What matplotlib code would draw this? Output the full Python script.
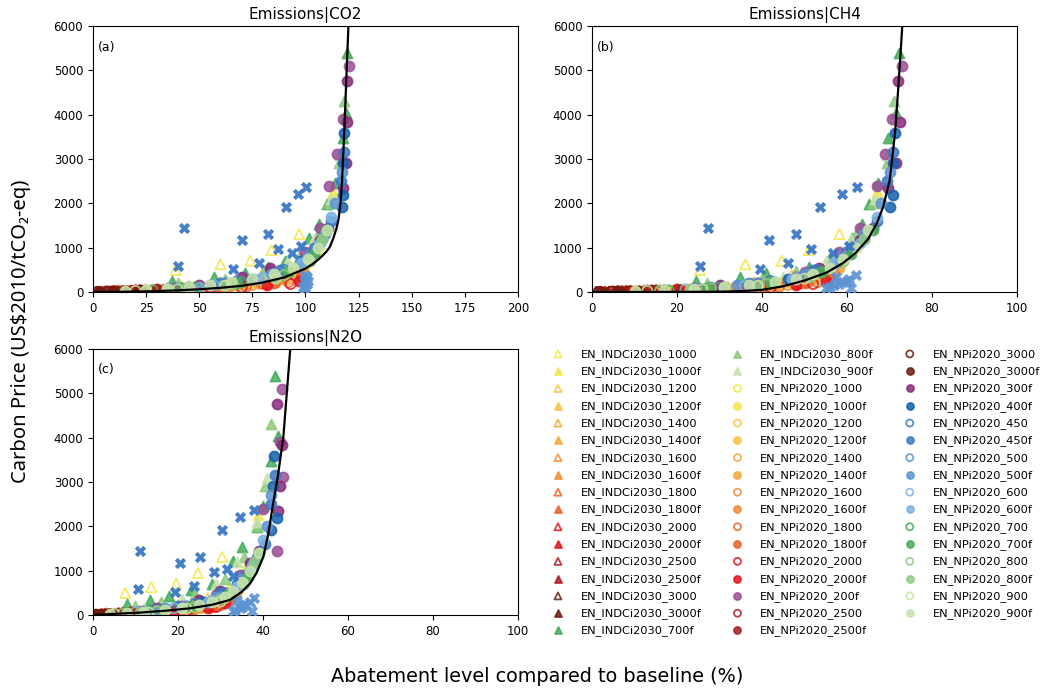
import matplotlib
matplotlib.use('Agg')
import matplotlib.pyplot as plt

# ---------------- data ----------------
gas_titles = ['Emissions|CO2', 'Emissions|CH4', 'Emissions|N2O']
panel_tags = ['(a)', '(b)', '(c)']
yticks = [0, 1000, 2000, 3000, 4000, 5000, 6000]
xticks_co2 = [0, 25, 50, 75, 100, 125, 150, 175, 200]
xticks_other = [0, 20, 40, 60, 80, 100]

# INDCi2030 scenarios (triangles): price, CO2 %, CH4 %, N2O %
i1000_y = [496, 625, 706, 947, 1308]
i1000_co2 = [39, 60, 74, 84, 97]
i1000_ch4 = [25.4, 36.1, 44.6, 51, 58.2]
i1000_n2o = [7.6, 13.7, 19.6, 24.7, 30.4]
i1000f_y = [150, 300, 600, 1100, 2250]
i1000f_co2 = [55, 78, 97, 107, 113]
i1000f_ch4 = [38, 48, 56, 62, 67]
i1000f_n2o = [20, 27, 32, 36, 38.9]
i1200_y = [60, 120, 220, 380]
i1200_co2 = [25, 42, 60, 80]
i1200_ch4 = [16, 27, 38, 47]
i1200_n2o = [7, 13, 20, 27]
i1200f_y = [80, 160, 320, 650]
i1200f_co2 = [40, 60, 82, 98]
i1200f_ch4 = [27, 39, 49, 57]
i1200f_n2o = [14, 21, 28, 33.5]
i1400_y = [40, 90, 160, 260]
i1400_co2 = [20, 38, 55, 72]
i1400_ch4 = [14, 25, 36, 45]
i1400_n2o = [6, 12, 19, 26]
i1400f_y = [60, 120, 250, 480]
i1400f_co2 = [35, 55, 78, 95]
i1400f_ch4 = [24, 36, 47, 55]
i1400f_n2o = [12, 20, 27, 33]
i1600_y = [30, 60, 110, 190]
i1600_co2 = [15, 30, 48, 65]
i1600_ch4 = [11, 21, 32, 42]
i1600_n2o = [5, 10, 17, 24]
i1600f_y = [40, 90, 180, 350]
i1600f_co2 = [28, 48, 70, 90]
i1600f_ch4 = [19, 31, 43, 52]
i1600f_n2o = [10, 17, 25, 31]
i1800_y = [20, 40, 80, 140]
i1800_co2 = [10, 24, 40, 58]
i1800_ch4 = [8, 17, 28, 38]
i1800_n2o = [3, 8, 14, 21]
i1800f_y = [30, 70, 140, 260]
i1800f_co2 = [22, 42, 62, 85]
i1800f_ch4 = [15, 28, 40, 50]
i1800f_n2o = [8, 15, 23, 30]
i2000_y = [15, 30, 60, 100]
i2000_co2 = [7, 18, 33, 50]
i2000_ch4 = [6, 13, 24, 34]
i2000_n2o = [2, 6, 12, 18]
i2000f_y = [20, 50, 100, 200]
i2000f_co2 = [15, 35, 55, 80]
i2000f_ch4 = [10, 23, 36, 48]
i2000f_n2o = [5, 12, 20, 28]
i2500_y = [8, 15, 30, 50]
i2500_co2 = [4, 10, 18, 30]
i2500_ch4 = [3, 7, 13, 20]
i2500_n2o = [1, 3, 6, 10]
i2500f_y = [10, 25, 45, 80]
i2500f_co2 = [5, 12, 20, 35]
i2500f_ch4 = [3, 8, 14, 24]
i2500f_n2o = [1.5, 4, 7, 13]
i3000_y = [5, 10, 20, 35]
i3000_co2 = [2, 6, 12, 20]
i3000_ch4 = [1, 4, 8, 14]
i3000_n2o = [0.5, 2, 4, 7]
i3000f_y = [8, 15, 28, 45]
i3000f_co2 = [3, 8, 14, 20]
i3000f_ch4 = [2, 5, 9, 15]
i3000f_n2o = [1, 2.5, 5, 8]
i700f_y = [248, 346, 421, 557, 706, 1211, 1526, 1978, 2466, 3481, 4045, 5385]
i700f_co2 = [37, 57, 71.7, 82.4, 90.4, 101.6, 106.2, 110.3, 113.9, 117.8, 119, 119.4]
i700f_ch4 = [24.5, 34.8, 41, 51.1, 56, 61.2, 63.5, 65.2, 67.4, 69.6, 71.5, 72.3]
i700f_n2o = [8, 13.5, 18, 23, 28, 32.9, 35, 38.5, 40, 42, 43.6, 42.8]
i800f_y = [200, 300, 480, 800, 1300, 2000, 2900, 4309]
i800f_co2 = [40, 62, 80, 97, 106, 111, 116, 118.1]
i800f_ch4 = [27, 40, 48, 56, 62, 66, 69.5, 71.1]
i800f_n2o = [10, 16, 24, 31, 35.5, 38.5, 40.5, 41.9]
i900f_y = [60, 150, 350, 700, 1200, 2100, 3100]
i900f_co2 = [20, 45, 70, 92, 104, 112, 116]
i900f_ch4 = [12, 30, 45, 55, 61, 66.5, 69.5]
i900f_n2o = [3, 12, 21, 29, 34, 38.5, 41]

# NPi2020 scenarios (circles)
n1000_y = [30, 80, 180, 350, 600]
n1000_co2 = [25, 45, 68, 88, 100]
n1000_ch4 = [15, 28, 42, 52, 58]
n1000_n2o = [7, 15, 24, 30, 34]
n1000f_y = [50, 120, 260, 500, 900]
n1000f_co2 = [35, 58, 80, 96, 105]
n1000f_ch4 = [22, 36, 47, 56, 61]
n1000f_n2o = [11, 20, 27, 33, 36]
n1200_y = [25, 60, 130, 260, 450]
n1200_co2 = [20, 40, 62, 82, 96]
n1200_ch4 = [13, 26, 40, 49, 56]
n1200_n2o = [6, 13, 21, 28, 32]
n1200f_y = [35, 90, 200, 400, 700]
n1200f_co2 = [30, 52, 74, 92, 102]
n1200f_ch4 = [19, 33, 45, 54, 59]
n1200f_n2o = [9, 18, 26, 31, 35]
n1400_y = [20, 45, 100, 200, 350]
n1400_co2 = [16, 34, 56, 78, 92]
n1400_ch4 = [11, 23, 37, 47, 54]
n1400_n2o = [5, 11, 19, 26, 31]
n1400f_y = [28, 70, 150, 300, 550]
n1400f_co2 = [26, 46, 68, 88, 99]
n1400f_ch4 = [16, 30, 43, 52, 58]
n1400f_n2o = [8, 16, 24, 30, 34]
n1600_y = [15, 35, 80, 160, 280]
n1600_co2 = [12, 28, 50, 75, 92]
n1600_ch4 = [9, 20, 34, 46, 54]
n1600_n2o = [4, 9, 17, 25, 30]
n1600f_y = [22, 55, 120, 240, 420]
n1600f_co2 = [20, 40, 64, 86, 98]
n1600f_ch4 = [13, 27, 41, 51, 57]
n1600f_n2o = [6, 14, 22, 29, 33]
n1800_y = [12, 28, 60, 120, 220]
n1800_co2 = [9, 23, 45, 72, 92]
n1800_ch4 = [7, 17, 31, 44, 53]
n1800_n2o = [3, 8, 15, 23, 30]
n1800f_y = [18, 45, 100, 200, 330]
n1800f_co2 = [15, 35, 60, 85, 98]
n1800f_ch4 = [10, 24, 39, 50, 56]
n1800f_n2o = [5, 12, 20, 28, 32]
n2000_y = [10, 22, 50, 100, 180]
n2000_co2 = [6, 18, 40, 70, 93]
n2000_ch4 = [5, 14, 28, 42, 52]
n2000_n2o = [2, 7, 14, 22, 29]
n2000f_y = [14, 35, 80, 160, 260]
n2000f_co2 = [11, 30, 55, 82, 97]
n2000f_ch4 = [8, 21, 36, 48, 55]
n2000f_n2o = [4, 11, 19, 27, 31]
n200f_y = [80, 200, 450, 900, 1444, 2400, 3121, 3900, 5098]
n200f_co2 = [38, 62, 84, 100, 107, 111, 115, 117.5, 120.6]
n200f_ch4 = [24, 39, 50, 58, 63, 67, 69, 70.5, 72.9]
n200f_n2o = [11, 21, 29, 34.5, 43.3, 40, 44.8, 44, 44.5]
n2500_y = [6, 14, 30, 55]
n2500_co2 = [3, 10, 22, 40]
n2500_ch4 = [2, 6, 14, 26]
n2500_n2o = [0.8, 3, 7, 12]
n2500f_y = [8, 18, 35, 60]
n2500f_co2 = [4, 11, 20, 30]
n2500f_ch4 = [3, 7, 13, 20]
n2500f_n2o = [1, 3.5, 6, 9]
n3000_y = [5, 10, 20, 35]
n3000_co2 = [2, 7, 14, 22]
n3000_ch4 = [1.5, 4.5, 9, 15]
n3000_n2o = [0.5, 2, 4, 7]
n3000f_y = [6, 12, 22, 40]
n3000f_co2 = [3, 9, 16, 22]
n3000f_ch4 = [2, 6, 11, 17]
n3000f_n2o = [0.8, 2.5, 5, 8]
n300f_y = [150, 330, 534, 1173, 1437, 2339, 2900, 3842, 4760]
n300f_co2 = [50, 70, 83.3, 106.8, 110.7, 117.8, 119, 119.4, 119.4]
n300f_ch4 = [30, 47.9, 53.5, 63, 66.2, 69.7, 71.5, 72.5, 72.1]
n300f_n2o = [15, 25, 30, 37, 39, 43.6, 44, 44.4, 43.4]
n400f_y = [300, 700, 1200, 1925, 2190, 2900, 3580]
n400f_co2 = [75, 98, 108, 117, 117.5, 117.8, 118.1]
n400f_ch4 = [46, 58, 64, 70.2, 70.7, 70.7, 71.4]
n400f_n2o = [26, 34, 38, 42, 43.2, 42.4, 42.7]
n450_y = [100, 250, 500, 900]
n450_co2 = [45, 68, 90, 104]
n450_ch4 = [28, 42, 53, 60]
n450_n2o = [14, 24, 31, 36]
n450f_y = [200, 500, 1000, 1600, 2500, 3150]
n450f_co2 = [60, 88, 104, 112, 116.5, 118]
n450f_ch4 = [37, 52, 61, 67, 69.5, 70.8]
n450f_n2o = [20, 30, 37, 40.5, 42, 42.8]
n500_y = [80, 200, 400, 750]
n500_co2 = [40, 62, 85, 101]
n500_ch4 = [25, 39, 51, 59]
n500_n2o = [12, 22, 30, 35]
n500f_y = [150, 400, 800, 1300, 2000, 2700]
n500f_co2 = [55, 84, 101, 109, 114, 117]
n500f_ch4 = [34, 50, 59, 64, 68, 70]
n500f_n2o = [17, 29, 35, 38.5, 41, 42]
n600_y = [60, 150, 320, 600]
n600_co2 = [35, 57, 80, 98]
n600_ch4 = [22, 36, 48, 57]
n600_n2o = [10, 19, 28, 34]
n600f_y = [120, 300, 650, 1100, 1700]
n600f_co2 = [50, 78, 98, 107, 112]
n600f_ch4 = [31, 47, 57, 63, 67]
n600f_n2o = [15, 27, 34, 37.5, 40]
n700_y = [40, 100, 220, 450]
n700_co2 = [28, 48, 70, 92]
n700_ch4 = [18, 30, 43, 54]
n700_n2o = [8, 16, 25, 32]
n700f_y = [80, 200, 450, 850, 1400]
n700f_co2 = [42, 68, 92, 104, 110]
n700f_ch4 = [27, 42, 54, 61, 66]
n700f_n2o = [13, 23, 32, 36.5, 39]
n800_y = [30, 80, 180, 380]
n800_co2 = [25, 44, 66, 90]
n800_ch4 = [16, 28, 41, 52]
n800_n2o = [7, 15, 24, 31]
n800f_y = [60, 160, 350, 700, 1200]
n800f_co2 = [36, 62, 86, 102, 108]
n800f_ch4 = [23, 39, 51, 59, 64]
n800f_n2o = [11, 21, 30, 35.5, 38]
n900_y = [25, 60, 140, 300]
n900_co2 = [20, 40, 62, 86]
n900_ch4 = [13, 26, 39, 50]
n900_n2o = [5, 13, 22, 30]
n900f_y = [20, 40, 70, 110, 160, 220, 300, 400, 550, 750, 1000, 1400]
n900f_co2 = [15, 25, 35, 45, 55, 65, 75, 85, 94, 101, 106, 110]
n900f_ch4 = [10, 17, 24, 31, 37, 43, 48, 52, 56, 59, 62, 65]
n900f_n2o = [4, 8, 12, 17, 21, 25, 28, 31, 33, 35, 37, 39]

# unlabelled cross markers
cross_y = [593, 1437, 1173, 1315, 1910, 2218, 2376, 519, 654, 977, 872, 1037]
cross_co2 = [39.8, 43, 70, 82.2, 91, 96.5, 100.2, 65.9, 78.3, 87, 93.6, 98]
cross_ch4 = [25.4, 27.2, 41.6, 48.1, 53.6, 58.8, 62.4, 39.5, 46.2, 51.6, 56.7, 60.4]
cross_n2o = [10.5, 11.1, 20.4, 25.3, 30.3, 34.7, 38, 19.4, 23.7, 28.5, 33, 31.5]
cross2_y = [80, 150, 220, 300, 380, 120, 250, 180, 100, 340]
cross2_co2 = [100, 100, 100, 100, 100, 99, 101, 100.5, 99.5, 100.5]
cross2_ch4 = [55, 57, 59, 60.5, 62, 56, 60, 58, 61, 57.5]
cross2_n2o = [33, 34.5, 36, 37, 38, 33.5, 35.5, 35, 37.5, 34]

# fitted curves
fit_co2_x = [0, 10, 20, 30, 40, 50, 60, 70, 80, 90, 100, 103, 106, 108, 110, 111.5, 113, 114.5,
             115.5, 116.5, 117.2, 117.8, 118.5, 119.2, 119.8, 120.2, 120.4]
fit_co2_y = [0, 3, 10, 22, 38, 62, 95, 140, 215, 330, 530, 620, 730, 820, 920, 1022, 1200, 1420,
             1624, 2000, 2500, 3128, 3900, 4800, 5500, 6000, 6300]
fit_ch4_x = [0, 10, 20, 30, 35, 40, 45, 50, 55, 59, 62, 65, 67, 68.5, 70, 70.5, 71.3, 71.8, 72.4, 73, 73.2]
fit_ch4_y = [0, 0.5, 2, 8, 20, 50, 130, 260, 430, 650, 880, 1200, 1550, 1920, 2500, 2900, 3600, 4250, 5100, 6000, 6300]
fit_n2o_x = [0, 5, 11, 17, 22.8, 28, 32.2, 35, 37, 38.5, 40.1, 41.3, 42.4, 43.6, 44.8, 45.6, 46.4, 46.6]
fit_n2o_y = [0, 25, 53, 95, 150, 230, 338, 520, 715, 950, 1316, 1850, 2519, 3196, 4022, 5000, 5978, 6300]

# ---------------- styles ----------------
C1000 = '#f5e64a'
C1200 = '#f6c542'
C1400 = '#f4a93b'
C1600 = '#f18d35'
C1800 = '#e9642a'
C2000 = '#e1161c'
C2500 = '#a91d1e'
C3000 = '#6f1d11'
C700 = '#45ad5c'
C800 = '#8fca7f'
C900 = '#c7e2ad'
C200 = '#9b4f97'
C300 = '#8a2b7b'
C400 = '#1661b0'
C450 = '#3b78c4'
C500 = '#5b93d3'
C600 = '#7cb2e2'

series = [
    ('EN_INDCi2030_1000', '^', C1000, False, i1000_y, i1000_co2, i1000_ch4, i1000_n2o),
    ('EN_INDCi2030_1000f', '^', C1000, True, i1000f_y, i1000f_co2, i1000f_ch4, i1000f_n2o),
    ('EN_INDCi2030_1200', '^', C1200, False, i1200_y, i1200_co2, i1200_ch4, i1200_n2o),
    ('EN_INDCi2030_1200f', '^', C1200, True, i1200f_y, i1200f_co2, i1200f_ch4, i1200f_n2o),
    ('EN_INDCi2030_1400', '^', C1400, False, i1400_y, i1400_co2, i1400_ch4, i1400_n2o),
    ('EN_INDCi2030_1400f', '^', C1400, True, i1400f_y, i1400f_co2, i1400f_ch4, i1400f_n2o),
    ('EN_INDCi2030_1600', '^', C1600, False, i1600_y, i1600_co2, i1600_ch4, i1600_n2o),
    ('EN_INDCi2030_1600f', '^', C1600, True, i1600f_y, i1600f_co2, i1600f_ch4, i1600f_n2o),
    ('EN_INDCi2030_1800', '^', C1800, False, i1800_y, i1800_co2, i1800_ch4, i1800_n2o),
    ('EN_INDCi2030_1800f', '^', C1800, True, i1800f_y, i1800f_co2, i1800f_ch4, i1800f_n2o),
    ('EN_INDCi2030_2000', '^', C2000, False, i2000_y, i2000_co2, i2000_ch4, i2000_n2o),
    ('EN_INDCi2030_2000f', '^', C2000, True, i2000f_y, i2000f_co2, i2000f_ch4, i2000f_n2o),
    ('EN_INDCi2030_2500', '^', C2500, False, i2500_y, i2500_co2, i2500_ch4, i2500_n2o),
    ('EN_INDCi2030_2500f', '^', C2500, True, i2500f_y, i2500f_co2, i2500f_ch4, i2500f_n2o),
    ('EN_INDCi2030_3000', '^', C3000, False, i3000_y, i3000_co2, i3000_ch4, i3000_n2o),
    ('EN_INDCi2030_3000f', '^', C3000, True, i3000f_y, i3000f_co2, i3000f_ch4, i3000f_n2o),
    ('EN_INDCi2030_700f', '^', C700, True, i700f_y, i700f_co2, i700f_ch4, i700f_n2o),
    ('EN_INDCi2030_800f', '^', C800, True, i800f_y, i800f_co2, i800f_ch4, i800f_n2o),
    ('EN_INDCi2030_900f', '^', C900, True, i900f_y, i900f_co2, i900f_ch4, i900f_n2o),
    ('EN_NPi2020_1000', 'o', C1000, False, n1000_y, n1000_co2, n1000_ch4, n1000_n2o),
    ('EN_NPi2020_1000f', 'o', C1000, True, n1000f_y, n1000f_co2, n1000f_ch4, n1000f_n2o),
    ('EN_NPi2020_1200', 'o', C1200, False, n1200_y, n1200_co2, n1200_ch4, n1200_n2o),
    ('EN_NPi2020_1200f', 'o', C1200, True, n1200f_y, n1200f_co2, n1200f_ch4, n1200f_n2o),
    ('EN_NPi2020_1400', 'o', C1400, False, n1400_y, n1400_co2, n1400_ch4, n1400_n2o),
    ('EN_NPi2020_1400f', 'o', C1400, True, n1400f_y, n1400f_co2, n1400f_ch4, n1400f_n2o),
    ('EN_NPi2020_1600', 'o', C1600, False, n1600_y, n1600_co2, n1600_ch4, n1600_n2o),
    ('EN_NPi2020_1600f', 'o', C1600, True, n1600f_y, n1600f_co2, n1600f_ch4, n1600f_n2o),
    ('EN_NPi2020_1800', 'o', C1800, False, n1800_y, n1800_co2, n1800_ch4, n1800_n2o),
    ('EN_NPi2020_1800f', 'o', C1800, True, n1800f_y, n1800f_co2, n1800f_ch4, n1800f_n2o),
    ('EN_NPi2020_2000', 'o', C2000, False, n2000_y, n2000_co2, n2000_ch4, n2000_n2o),
    ('EN_NPi2020_2000f', 'o', C2000, True, n2000f_y, n2000f_co2, n2000f_ch4, n2000f_n2o),
    ('EN_NPi2020_200f', 'o', C200, True, n200f_y, n200f_co2, n200f_ch4, n200f_n2o),
    ('EN_NPi2020_2500', 'o', C2500, False, n2500_y, n2500_co2, n2500_ch4, n2500_n2o),
    ('EN_NPi2020_2500f', 'o', C2500, True, n2500f_y, n2500f_co2, n2500f_ch4, n2500f_n2o),
    ('EN_NPi2020_3000', 'o', C3000, False, n3000_y, n3000_co2, n3000_ch4, n3000_n2o),
    ('EN_NPi2020_3000f', 'o', C3000, True, n3000f_y, n3000f_co2, n3000f_ch4, n3000f_n2o),
    ('EN_NPi2020_300f', 'o', C300, True, n300f_y, n300f_co2, n300f_ch4, n300f_n2o),
    ('EN_NPi2020_400f', 'o', C400, True, n400f_y, n400f_co2, n400f_ch4, n400f_n2o),
    ('EN_NPi2020_450', 'o', C450, False, n450_y, n450_co2, n450_ch4, n450_n2o),
    ('EN_NPi2020_450f', 'o', C450, True, n450f_y, n450f_co2, n450f_ch4, n450f_n2o),
    ('EN_NPi2020_500', 'o', C500, False, n500_y, n500_co2, n500_ch4, n500_n2o),
    ('EN_NPi2020_500f', 'o', C500, True, n500f_y, n500f_co2, n500f_ch4, n500f_n2o),
    ('EN_NPi2020_600', 'o', C600, False, n600_y, n600_co2, n600_ch4, n600_n2o),
    ('EN_NPi2020_600f', 'o', C600, True, n600f_y, n600f_co2, n600f_ch4, n600f_n2o),
    ('EN_NPi2020_700', 'o', C700, False, n700_y, n700_co2, n700_ch4, n700_n2o),
    ('EN_NPi2020_700f', 'o', C700, True, n700f_y, n700f_co2, n700f_ch4, n700f_n2o),
    ('EN_NPi2020_800', 'o', C800, False, n800_y, n800_co2, n800_ch4, n800_n2o),
    ('EN_NPi2020_800f', 'o', C800, True, n800f_y, n800f_co2, n800f_ch4, n800f_n2o),
    ('EN_NPi2020_900', 'o', C900, False, n900_y, n900_co2, n900_ch4, n900_n2o),
    ('EN_NPi2020_900f', 'o', C900, True, n900f_y, n900f_co2, n900f_ch4, n900f_n2o),
]

plt.rcParams['font.family'] = ['DejaVu Sans']

fig = plt.figure(figsize=(10.41, 6.93), dpi=100)
axa = fig.add_axes([0.0893, 0.5786, 0.4083, 0.3839])
axb = fig.add_axes([0.5687, 0.5786, 0.4083, 0.3839])
axc = fig.add_axes([0.0893, 0.1126, 0.4083, 0.3839])
axes = [axa, axb, axc]

fits = [(fit_co2_x, fit_co2_y), (fit_ch4_x, fit_ch4_y), (fit_n2o_x, fit_n2o_y)]
crosses = [(cross_co2, cross2_co2), (cross_ch4, cross2_ch4), (cross_n2o, cross2_n2o)]

for k, ax in enumerate(axes):
    for (lab, mk, col, filled, yv, xc, xm, xn) in series:
        xv = [xc, xm, xn][k]
        ax.scatter(xv, yv, marker=mk, s=52,
                   facecolors=col if filled else 'none',
                   edgecolors=col, linewidths=1.3, alpha=0.85,
                   label=lab if k == 0 else '_nolegend_', zorder=2)
    ax.scatter(crosses[k][1], cross2_y, marker='X', s=66, color=C500,
               alpha=0.9, linewidths=0, zorder=3, label='_nolegend_')
    ax.scatter(crosses[k][0], cross_y, marker='X', s=66, color=C450,
               alpha=0.95, linewidths=0, zorder=3, label='_nolegend_')
    ax.plot(fits[k][0], fits[k][1], color='black', lw=1.6, zorder=4)
    ax.set_ylim(0, 6000)
    ax.set_yticks(yticks)
    ax.set_title(gas_titles[k], fontsize=11, pad=5)
    ax.text(0.012, 0.921, panel_tags[k], transform=ax.transAxes,
            fontsize=9, ha='left', va='center')
    ax.tick_params(labelsize=8.5)

axa.set_xlim(0, 200)
axa.set_xticks(xticks_co2)
axb.set_xlim(0, 100)
axb.set_xticks(xticks_other)
axc.set_xlim(0, 100)
axc.set_xticks(xticks_other)

handles, labels = axa.get_legend_handles_labels()
fig.legend(handles, labels, ncol=3, loc='upper left',
           bbox_to_anchor=(0.5152, 0.5113), frameon=False, fontsize=8.2,
           markerscale=0.7, handlelength=2.0, handletextpad=1.0,
           columnspacing=2.15, labelspacing=0.56, borderpad=0.4)

fig.text(0.516, 0.024, 'Abatement level compared to baseline (%)',
         ha='center', va='center', fontsize=13.9)
fig.text(0.020, 0.522, 'Carbon Price (US$2010/tCO\u2082-eq)', rotation=90,
         ha='center', va='center', fontsize=14.5, family=['Noto Sans', 'DejaVu Sans'])

fig.savefig('out.png', dpi=100)
